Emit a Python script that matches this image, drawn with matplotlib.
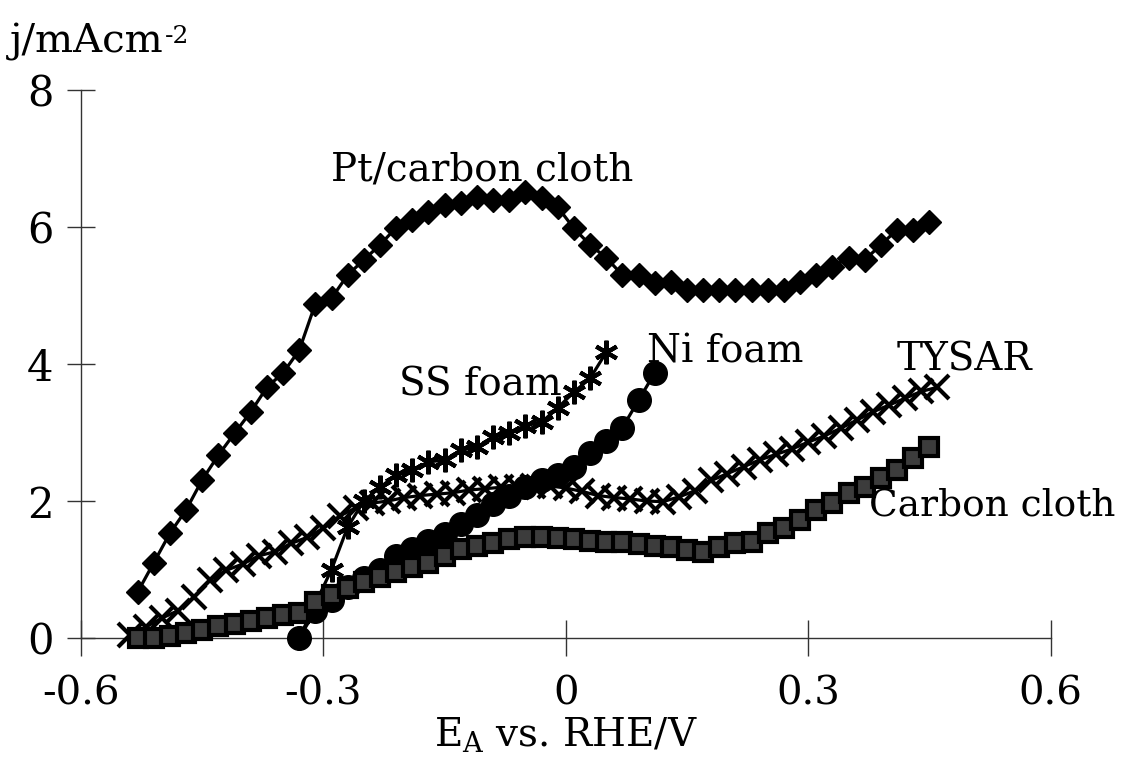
import matplotlib
matplotlib.use("Agg")
import matplotlib.pyplot as plt
import numpy as np

# Potential grids (V vs RHE)
pt_x = np.round(np.arange(-0.53, 0.451, 0.02), 3)
pt_j = [0.67, 1.10, 1.53, 1.87, 2.31, 2.67, 2.99, 3.30, 3.66, 3.87,
        4.20, 4.88, 4.96, 5.30, 5.52, 5.74, 5.99, 6.10, 6.22, 6.32,
        6.35, 6.44, 6.39, 6.39, 6.51, 6.42, 6.29, 5.98, 5.74, 5.55,
        5.30, 5.30, 5.18, 5.20, 5.08, 5.08, 5.08, 5.08, 5.08, 5.08,
        5.08, 5.20, 5.30, 5.42, 5.55, 5.52, 5.74, 5.96, 5.96, 6.07]

tysar_x = np.round(np.arange(-0.54, 0.461, 0.02), 3)
tysar_j = [0.05, 0.16, 0.29, 0.40, 0.60, 0.85, 0.99, 1.08, 1.20, 1.26,
           1.38, 1.47, 1.60, 1.78, 1.90, 1.97, 2.00, 2.05, 2.08, 2.10,
           2.12, 2.16, 2.18, 2.20, 2.20, 2.22, 2.22, 2.19, 2.14, 2.08,
           2.05, 2.03, 2.00, 1.99, 2.06, 2.15, 2.30, 2.40, 2.50, 2.60,
           2.68, 2.76, 2.86, 2.95, 3.06, 3.18, 3.30, 3.40, 3.50, 3.60,
           3.66]

ss_x = [-0.33, -0.29, -0.27, -0.25, -0.23, -0.21, -0.19, -0.17, -0.15, -0.13,
        -0.11, -0.09, -0.07, -0.05, -0.03, -0.01, 0.01, 0.03, 0.05]
ss_j = [0.0, 1.0, 1.62, 2.0, 2.2, 2.38, 2.45, 2.57, 2.6, 2.74,
        2.79, 2.93, 3.0, 3.1, 3.15, 3.36, 3.59, 3.79, 4.17]

ni_x = np.round(np.arange(-0.33, 0.111, 0.02), 3)
ni_j = [0.0, 0.40, 0.55, 0.75, 0.88, 1.0, 1.2, 1.3, 1.42, 1.52,
        1.67, 1.8, 1.95, 2.08, 2.2, 2.3, 2.38, 2.5, 2.7, 2.88,
        3.07, 3.47, 3.87]

cc_x = np.round(np.arange(-0.53, 0.451, 0.02), 3)
cc_j = [0.0, 0.0, 0.03, 0.08, 0.12, 0.17, 0.21, 0.25, 0.29, 0.33,
        0.37, 0.52, 0.63, 0.73, 0.82, 0.89, 0.96, 1.04, 1.10, 1.20,
        1.30, 1.35, 1.39, 1.45, 1.47, 1.47, 1.46, 1.44, 1.42, 1.40,
        1.40, 1.37, 1.34, 1.33, 1.28, 1.26, 1.33, 1.39, 1.40, 1.53,
        1.60, 1.72, 1.87, 1.97, 2.12, 2.20, 2.34, 2.45, 2.63, 2.79]

x_ticks = [-0.6, -0.3, 0, 0.3, 0.6]
x_ticklabels = ["-0.6", "-0.3", "0", "0.3", "0.6"]
y_ticks = [0, 2, 4, 6, 8]

plt.rcParams["font.family"] = ["DejaVu Serif"]
plt.rcParams["mathtext.fontset"] = "dejavuserif"
plt.rcParams["axes.unicode_minus"] = False

fig = plt.figure(figsize=(11.26, 7.6), dpi=100)
ax = fig.add_axes([0.072, 0.1605, 0.861, 0.7211])

lw = 2.3
ax.plot(pt_x, pt_j, color="black", lw=lw, marker="D", ms=12.5,
        mfc="black", mec="black", clip_on=False, zorder=3)
ax.plot(tysar_x, tysar_j, color="black", lw=lw, marker="x", ms=17,
        mew=3, clip_on=False, zorder=3)
ax.plot(ss_x, ss_j, color="black", lw=lw, marker=(6, 2, 0), ms=17,
        mew=3, mec="black", clip_on=False, zorder=4)
ax.plot(ni_x, ni_j, color="black", lw=lw, marker="o", ms=17,
        mfc="black", mec="black", clip_on=False, zorder=4)
ax.plot(cc_x, cc_j, color="black", lw=lw, marker="s", ms=13,
        mfc="#3c3c3c", mec="black", mew=3, clip_on=False, zorder=5)

ax.set_xlim(-0.6, 0.6)
ax.set_ylim(0, 8)
ax.set_xticks(x_ticks)
ax.set_xticklabels(x_ticklabels)
ax.set_yticks(y_ticks)

for s in ["top", "right"]:
    ax.spines[s].set_visible(False)
for s in ["left", "bottom"]:
    ax.spines[s].set_linewidth(1.0)
    ax.spines[s].set_color("#333333")

ax.tick_params(axis="x", direction="inout", length=26, width=1.0,
               color="#333333", labelsize=29, pad=14)
ax.tick_params(axis="y", direction="inout", length=20, width=1.0,
               color="#333333", labelsize=30, pad=10)

txt = dict(fontsize=28, color="black")
ax.text(-0.104, 6.83, "Pt/carbon cloth", ha="center", va="center", **txt)
ax.text(-0.207, 3.69, "SS foam", ha="left", va="center", **txt)
ax.text(0.1, 4.17, "Ni foam", ha="left", va="center", **txt)
ax.text(0.41, 4.06, "TYSAR", ha="left", va="center", **txt)
ax.text(0.375, 1.94, "Carbon cloth", ha="left", va="center", fontsize=27)

# y-axis title with a hyphen superscript
ylab = fig.text(0.009, 0.945, "j/mAcm", ha="left", va="center", fontsize=29)
fig.canvas.draw()
bb = ylab.get_window_extent()
fig.text(bb.x1 + 1, bb.y1 - 14, "-2", transform=None, ha="left",
         va="center", fontsize=18)

ax.set_xlabel(r"E$_{\mathregular{A}}$ vs. RHE/V", fontsize=28, labelpad=2)

fig.savefig("out.png", dpi=100)
